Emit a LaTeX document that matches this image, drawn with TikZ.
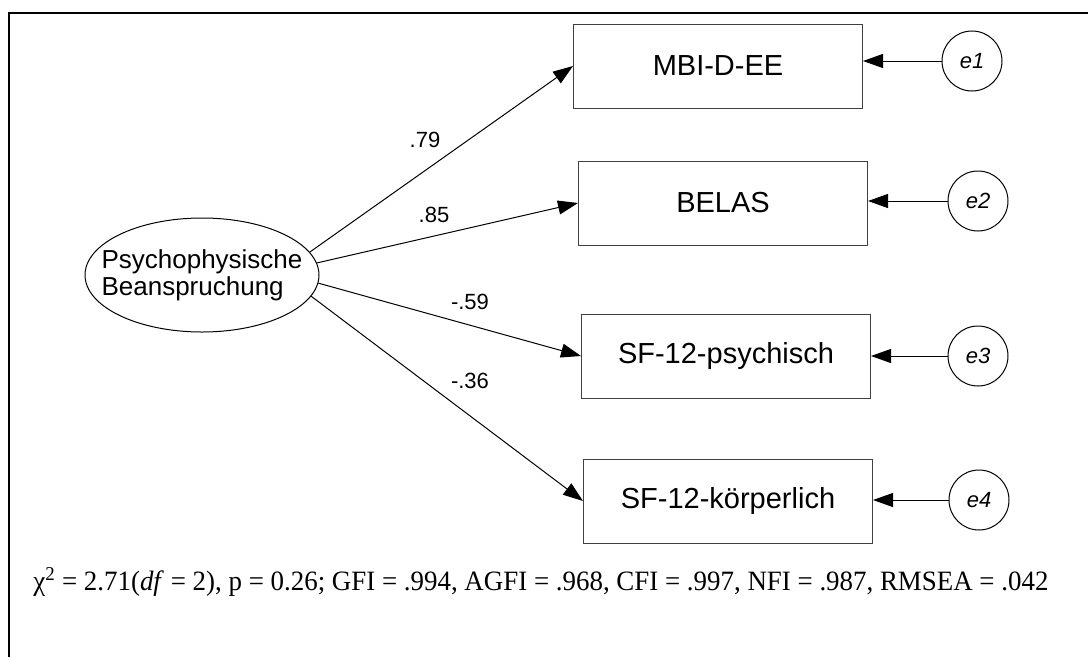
\documentclass[tikz,border=0pt]{standalone}
\usepackage{fontspec}
\setmainfont{Liberation Sans}
\newfontfamily\timesfont{Liberation Serif}
\usetikzlibrary{shapes.geometric,arrows.meta}

\tikzstyle{semfig}=[x=1pt,y=-1pt,line width=1pt]
\tikzstyle{latent}=[draw,ellipse,minimum width=234pt,minimum height=114pt,inner xsep=-20pt,inner ysep=14pt,align=left,font=\fontsize{26}{27}\selectfont]
\tikzstyle{obsbox}=[draw=black!75,minimum width=289pt,minimum height=84pt,inner sep=0pt,font=\fontsize{29}{34}\selectfont]
\tikzstyle{errcirc}=[draw,circle,minimum size=60pt,inner sep=0pt,font=\fontsize{22}{26}\selectfont\itshape]
\tikzstyle{loading}=[-{Triangle[length=20pt,width=14pt]}]
\tikzstyle{coef}=[inner sep=0pt,font=\fontsize{22}{24}\selectfont]

\begin{document}
\begin{tikzpicture}[style=semfig]
\useasboundingbox (0,0) rectangle (1088,657);
\draw[line width=2.5pt] (9,657) -- (9,13) -- (1088,13);

\node[latent] (psy) at (202,275) {Psychophysische\\Beanspruchung};

\node[obsbox] (mbi) at (718,66) {MBI-D-EE};
\node[obsbox] (belas) at (723,203) {BELAS};
\node[obsbox] (sfpsy) at (726,356) {SF-12-psychisch};
\node[obsbox] (sfkoe) at (728,501) {SF-12-körperlich};

\node[errcirc] (e1) at (972,61) {e1};
\node[errcirc] (e2) at (978,201) {e2};
\node[errcirc] (e3) at (978,356) {e3};
\node[errcirc] (e4) at (979,500) {e4};

\draw[loading] (psy.12) -- (mbi.west);
\draw[loading] (psy.6) -- (belas.west);
\draw[loading] (psy.-4) -- (sfpsy.west);
\draw[loading] (psy.-11) -- (sfkoe.west);

\draw[loading] (e1.west) -- (e1.west -| mbi.east);
\draw[loading] (e2.west) -- (e2.west -| belas.east);
\draw[loading] (e3.west) -- (e3.west -| sfpsy.east);
\draw[loading] (e4.west) -- (e4.west -| sfkoe.east);

\node[coef] (l1) at (425,140) {.79};
\node[coef] (l2) at (434,215) {.85};
\node[coef] (l3) at (470,302) {-.59};
\node[coef] (l4) at (470,381) {-.36};

\node[anchor=base west,inner sep=0pt] (fitidx) at (33,590)
  {\resizebox{1015pt}{\height}{\timesfont\fontsize{28}{30}\selectfont χ\textsuperscript{2} = 2.71(\textit{df} = 2), p = 0.26; GFI = .994, AGFI = .968, CFI = .997, NFI = .987, RMSEA = .042}};
\end{tikzpicture}
\end{document}
